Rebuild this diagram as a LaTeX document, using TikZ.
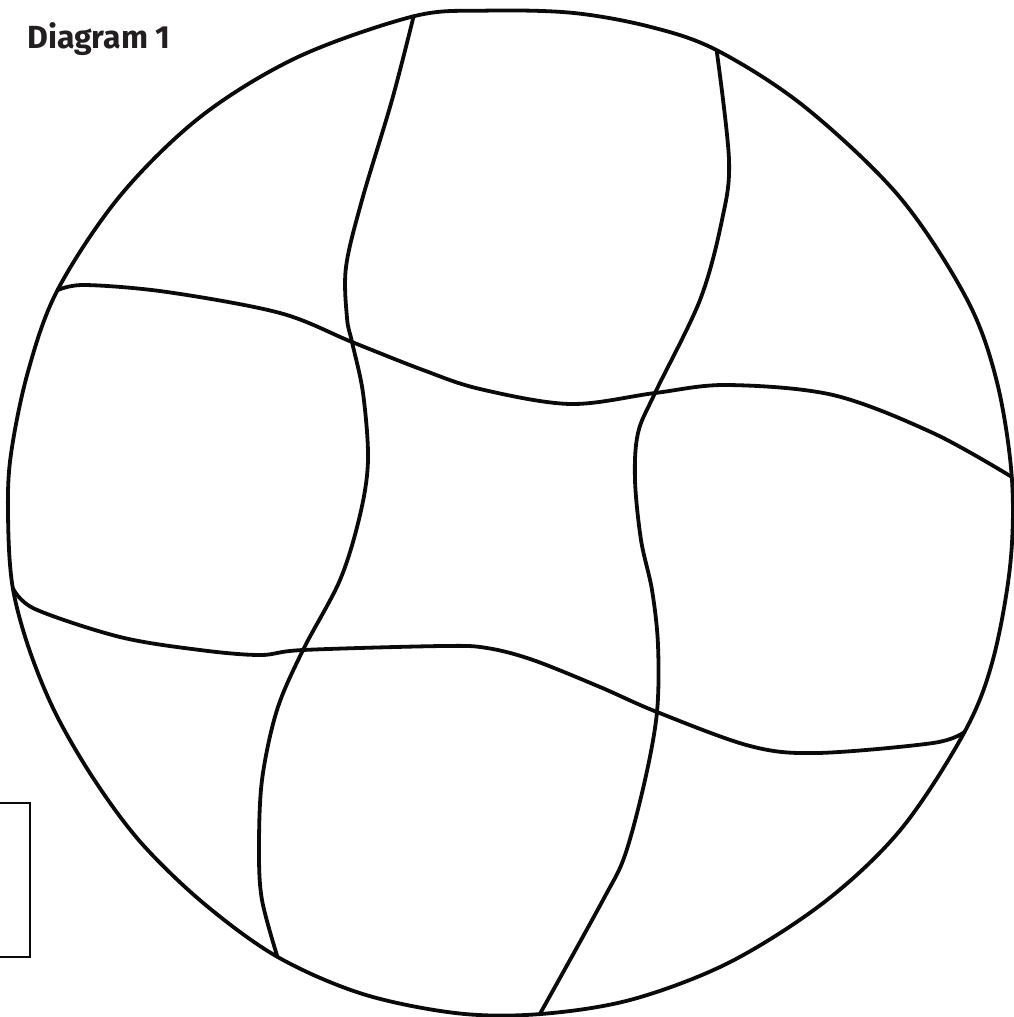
\documentclass[tikz,border=0pt]{standalone}
\usepackage{fontspec}
\setmainfont{Fira Sans}
\definecolor{inkc}{HTML}{0A0A0A}
\definecolor{titlec}{HTML}{231F20}
\tikzset{
  pen/.style={draw=inkc, line width=3.8pt, line cap=round, line join=round},
  boxline/.style={draw=inkc, line width=2.8pt},
  titletext/.style={text=titlec, font=\bfseries\fontsize{32}{38}\selectfont, inner sep=0pt, anchor=base west}
}
\begin{document}
\begin{tikzpicture}[x=1pt,y=-1pt]
\useasboundingbox (0,0) rectangle (1013,1017);
\begin{scope}[shift={(510,512)}]
% junctions on the outline (angles measured clockwise on the page)
\coordinate (h1r) at (-4:503);
\coordinate (v2t) at (-65.9:506);
\coordinate (v1t) at (-101:505);
\coordinate (h1l) at (-153.9:504);
\coordinate (h2l) at (-188.7:503);
\coordinate (v1b) at (-242.4:502);
\coordinate (v2b) at (-273.4:503);
\coordinate (h2r) at (-334.2:505);
% outline
\draw[pen] plot[smooth cycle, tension=0.55] coordinates {
 (h1r) (-15:504) (-25:504) (-39:501) (-54:501) (v2t) (-74:505) (-83:503)
 (-93:502) (v1t) (-115:502) (-128:502) (-141:502) (h1l) (-164:502)
 (-174:502.5) (-181.5:502) (h2l) (-196:500) (-204:497) (-213:494.5)
 (-222:495.5) (-232:497) (v1b) (-253:504) (-264:504) (v2b) (-284:502.5)
 (-296:501) (-309:501) (-321:503.5) (h2r) (-343:505) (-354:503)};
\end{scope}
% interior crossings
\coordinate (x11) at (352,342);
\coordinate (x21) at (655,393);
\coordinate (x12) at (303,650);
\coordinate (x22) at (657,712);

% vertical curves
\draw[pen] plot[smooth, tension=0.55] coordinates {
 (v1t) (392,100) (362,200) (346,267) (347,318) (x11) (363,393) (368,460)
 (360,515) (340,580) (x12) (277,710) (262,780) (259,850) (262,900) (v1b)};
\draw[pen] plot[smooth, tension=0.55] coordinates {
 (v2t) (729,160) (722,220) (700,300) (x21) (638,433) (635,480) (641,540)
 (652,590) (658,645) (x22) (645,780) (625,855) (603,900) (v2b)};

% horizontal curves
\draw[pen] plot[smooth, tension=0.55] coordinates {
 (h1l) (85,285) (167,292) (280,313) (x11) (423,370) (480,389) (570,404)
 (x21) (727,385) (833,395) (933,433) (h1r)};
\draw[pen] plot[smooth, tension=0.55] coordinates {
 (h2l) (35,609) (120,637) (200,650) (260,655) (x12) (443,646) (487,648)
 (533,660) (600,687) (x22) (750,746) (817,753) (933,743) (h2r)};

% box at lower left
\draw[boxline] (-5,803) rectangle (30,957);

% title
\node[titletext] (title) at (27,48) {Diagram 1};
\end{tikzpicture}
\end{document}
